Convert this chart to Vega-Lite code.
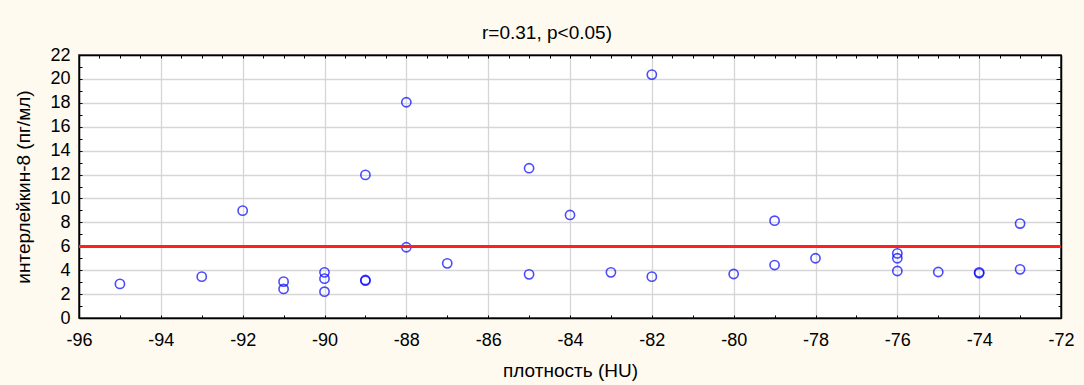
{
  "$schema": "https://vega.github.io/schema/vega-lite/v6.json",
  "width": 982,
  "height": 263,
  "autosize": {"type": "none"},
  "padding": {"left": 79, "top": 55, "right": 23, "bottom": 67},
  "background": "#fefaf0",
  "title": {"text": "r=0.31, p<0.05)", "font": "Liberation Sans", "fontSize": 19, "fontWeight": "normal", "color": "#000000", "offset": 3, "dx": -23},
  "config": {
    "view": {"fill": "white", "stroke": "black", "strokeWidth": 1.5},
    "axis": {
      "domainColor": "black", "domainWidth": 1.5, "tickColor": "black", "tickWidth": 1,
      "labelFont": "Liberation Sans", "labelFontSize": 18, "labelColor": "black",
      "titleFont": "Liberation Sans", "titleFontSize": 19, "titleFontWeight": "normal", "titleColor": "black",
      "gridColor": "#d6d6d6", "gridWidth": 1.3
    }
  },
  "data": {"values": [
    {"x": -95, "y": 2.85}, {"x": -93, "y": 3.46}, {"x": -92, "y": 8.98},
    {"x": -91, "y": 3.04}, {"x": -91, "y": 2.43},
    {"x": -90, "y": 3.82}, {"x": -90, "y": 3.29}, {"x": -90, "y": 2.2},
    {"x": -89, "y": 11.97}, {"x": -89, "y": 3.18}, {"x": -89, "y": 3.12},
    {"x": -88, "y": 18.05}, {"x": -88, "y": 5.92},
    {"x": -87, "y": 4.57},
    {"x": -85, "y": 12.53}, {"x": -85, "y": 3.65},
    {"x": -84, "y": 8.62}, {"x": -83, "y": 3.82},
    {"x": -82, "y": 20.36}, {"x": -82, "y": 3.46},
    {"x": -80, "y": 3.68},
    {"x": -79, "y": 8.14}, {"x": -79, "y": 4.43},
    {"x": -78, "y": 5.0},
    {"x": -76, "y": 5.41}, {"x": -76, "y": 5.0}, {"x": -76, "y": 3.93},
    {"x": -75, "y": 3.85},
    {"x": -74, "y": 3.82}, {"x": -74, "y": 3.74},
    {"x": -73, "y": 7.9}, {"x": -73, "y": 4.07}
  ]},
  "layer": [
    {
      "mark": {"type": "point", "shape": "circle", "filled": false, "color": "#0000ff", "size": 85, "strokeWidth": 1.6},
      "encoding": {
        "x": {"field": "x", "type": "quantitative", "scale": {"domain": [-96, -72], "nice": false, "zero": false},
          "axis": {"orient": "bottom", "title": "плотность (HU)",
            "values": [-96,-95,-94,-93,-92,-91,-90,-89,-88,-87,-86,-85,-84,-83,-82,-81,-80,-79,-78,-77,-76,-75,-74,-73,-72],
            "labelExpr": "datum.value % 2 === 0 ? '' + datum.value : ''",
            "grid": true, "gridOpacity": {"condition": {"test": "datum.value % 2 === 0", "value": 1}, "value": 0},
            "tickSize": -3, "labelPadding": 16, "titlePadding": 12, "labelFlush": false}},
        "y": {"field": "y", "type": "quantitative", "scale": {"domain": [0, 22], "nice": false, "zero": true},
          "axis": {"orient": "left", "title": "интерлейкин-8 (пг/мл)",
            "values": [0,1,2,3,4,5,6,7,8,9,10,11,12,13,14,15,16,17,18,19,20,21,22],
            "labelExpr": "datum.value % 2 === 0 ? '' + datum.value : ''",
            "grid": true, "gridOpacity": {"condition": {"test": "datum.value % 2 === 0", "value": 1}, "value": 0},
            "tickSize": -3, "labelPadding": 12, "titlePadding": 16, "labelFlush": false}}
      }
    },
    {
      "mark": {"type": "rule", "color": "#ff2020", "strokeWidth": 2},
      "encoding": {"y": {"datum": 6, "type": "quantitative", "axis": null}}
    },
    {
      "mark": {"type": "point", "opacity": 0},
      "encoding": {
        "x": {"field": "x", "type": "quantitative",
          "axis": {"orient": "top", "title": null, "labels": false, "grid": false, "tickSize": -3,
            "values": [-96,-95.5,-95,-94.5,-94,-93.5,-93,-92.5,-92,-91.5,-91,-90.5,-90,-89.5,-89,-88.5,-88,-87.5,-87,-86.5,-86,-85.5,-85,-84.5,-84,-83.5,-83,-82.5,-82,-81.5,-81,-80.5,-80,-79.5,-79,-78.5,-78,-77.5,-77,-76.5,-76,-75.5,-75,-74.5,-74,-73.5,-73,-72.5,-72]}},
        "y": {"field": "y", "type": "quantitative",
          "axis": {"orient": "right", "title": null, "labels": false, "grid": false,
            "tickSize": {"condition": {"test": "datum.value % 2 === 0", "value": -5}, "value": -3},
            "values": [0,1,2,3,4,5,6,7,8,9,10,11,12,13,14,15,16,17,18,19,20,21,22]}}
      }
    }
  ],
  "resolve": {"axis": {"x": "independent", "y": "independent"}}
}
